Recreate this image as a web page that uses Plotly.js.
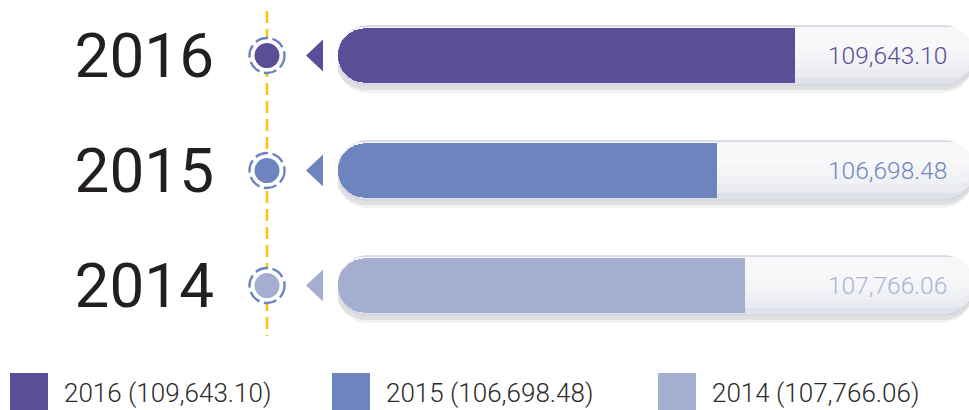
<!DOCTYPE html>
<html>
<head>
<meta charset="utf-8">
<script src="https://cdn.plot.ly/plotly-3.0.1.min.js"></script>
<style>html,body{margin:0;padding:0;background:#fff;}#chart{width:969px;height:410px;}</style>
</head>
<body>
<div id="chart"></div>
<script>
// ---- data ----
const years = ['2016', '2015', '2014'];
const values = [109643.10, 106698.48, 107766.06];
const fillColors = ['#5b4e98', '#6d84bf', '#a4aed1'];
const labelColors = ['#5b4e98', '#7088c2', '#aab4d8'];
const categoryOrder = ['2014', '2015', '2016'];
const axisStart = 92500;
const axisEnd = 116150;
const trackEnd = 116320;

// ---- layout helpers (positions only) ----
const W = 969, H = 410, plotH = 345;
const px = v => v / W;
const py = v => (plotH - v) / plotH;
const fmt = v => v.toLocaleString('en-US', {minimumFractionDigits: 2, maximumFractionDigits: 2});
const catIdx = yr => categoryOrder.indexOf(yr);

const traces = [];
// soft shadow layers
[[0.56, 0.045, 0.05], [0.53, 0.035, 0.07]].forEach(([w, d, a]) => {
  traces.push({
    type: 'bar', orientation: 'h', y: years, base: axisStart - 80,
    x: years.map(() => trackEnd - axisStart + 80),
    width: w, offset: -w / 2 - d,
    marker: {color: 'rgba(0,0,0,' + a + ')', cornerradius: '50%', line: {width: 0}},
    hoverinfo: 'skip', showlegend: false
  });
});
// track
traces.push({
  type: 'bar', orientation: 'h', y: years, base: axisStart,
  x: years.map(() => trackEnd - axisStart),
  width: 0.515,
  marker: {color: '#dfe2ea', cornerradius: '50%', line: {color: '#d0d3dd', width: 1.2}},
  hoverinfo: 'skip', showlegend: false
});
// track gradient steps (lighter toward the top)
[0.44, 0.36, 0.28, 0.2].forEach(w => {
  traces.push({
    type: 'bar', orientation: 'h', y: years, base: axisStart + 150,
    x: years.map(() => trackEnd - axisStart),
    width: w, offset: 0.245 - w,
    marker: {color: 'rgba(255,255,255,0.32)', cornerradius: '50%', line: {width: 0}},
    hoverinfo: 'skip', showlegend: false
  });
});
// value fill: rounded part
traces.push({
  type: 'bar', orientation: 'h', y: years, base: axisStart,
  x: values.map(v => v - axisStart),
  width: 0.473,
  marker: {color: fillColors, cornerradius: '50%', line: {width: 0}},
  hoverinfo: 'skip', showlegend: false
});
// value fill: square right end
traces.push({
  type: 'bar', orientation: 'h', y: years,
  base: values.map(v => axisStart + (v - axisStart) / 2),
  x: values.map(v => (v - axisStart) / 2),
  width: 0.473,
  marker: {color: fillColors, line: {width: 0}},
  hovertemplate: '%{y}: %{customdata}<extra></extra>', customdata: values.map(fmt),
  showlegend: false
});

const shapes = [];
const annotations = [];
// yellow dashed timeline
shapes.push({type: 'line', xref: 'paper', yref: 'paper', x0: px(267), x1: px(267), y0: py(11), y1: py(336),
  line: {color: '#fbc410', width: 2.6, dash: '12px,6px'}, layer: 'above'});

years.forEach((yr, i) => {
  const yi = catIdx(yr);
  // dashed ring
  shapes.push({type: 'circle', xref: 'paper', yref: 'y', xsizemode: 'pixel', ysizemode: 'pixel',
    xanchor: px(267), yanchor: yi, x0: -17.5, x1: 17.5, y0: -17.5, y1: 17.5,
    fillcolor: '#ffffff', line: {color: '#6d84bf', width: 2.4, dash: '13px,4.5px'}, layer: 'above'});
  // inner dot
  shapes.push({type: 'circle', xref: 'paper', yref: 'y', xsizemode: 'pixel', ysizemode: 'pixel',
    xanchor: px(267), yanchor: yi, x0: -12.5, x1: 12.5, y0: -12.5, y1: 12.5,
    fillcolor: fillColors[i], line: {width: 0}, layer: 'above'});
  // pointer triangle
  shapes.push({type: 'path', xref: 'paper', yref: 'y', xsizemode: 'pixel', ysizemode: 'pixel',
    xanchor: px(306), yanchor: yi, path: 'M0,0 L17,16 L17,-16 Z',
    fillcolor: fillColors[i], line: {width: 0}, layer: 'above'});
  // value text
  annotations.push({xref: 'paper', yref: 'y', x: px(949), y: yi, xanchor: 'right', yanchor: 'middle',
    text: fmt(values[i]), showarrow: false,
    font: {family: 'Roboto', size: 24.5, weight: 300, color: labelColors[i]}});
  // legend
  const lx = [10, 332, 658][i];
  shapes.push({type: 'rect', xref: 'paper', yref: 'paper', x0: px(lx), x1: px(lx + 38), y0: py(373), y1: py(411),
    fillcolor: fillColors[i], line: {width: 0}});
  annotations.push({xref: 'paper', yref: 'paper', x: px(lx + 52), y: py(393), xanchor: 'left', yanchor: 'middle',
    text: yr + ' (' + fmt(values[i]) + ')', showarrow: false,
    font: {family: 'Roboto', size: 26, weight: 300, color: '#2b2b2b'}});
});

const layout = {
  width: W, height: H,
  margin: {l: 0, r: 0, t: 0, b: H - plotH, pad: 0},
  paper_bgcolor: '#ffffff', plot_bgcolor: 'rgba(0,0,0,0)',
  barmode: 'overlay', bargap: 0,
  showlegend: false,
  xaxis: {domain: [338 / W, 1], range: [axisStart, axisEnd], showgrid: false, zeroline: false,
    showline: false, showticklabels: false, ticks: '', fixedrange: true},
  yaxis: {type: 'category', categoryorder: 'array', categoryarray: categoryOrder,
    range: [-0.517, 2.483], showgrid: false, zeroline: false, showline: false, ticks: '',
    ticklabelstandoff: 123,
    tickfont: {family: 'Roboto', size: 62, weight: 400, color: '#231f20'}, fixedrange: true},
  shapes: shapes,
  annotations: annotations
};

Plotly.newPlot('chart', traces, layout, {displayModeBar: false, staticPlot: true});
</script>
</body>
</html>
